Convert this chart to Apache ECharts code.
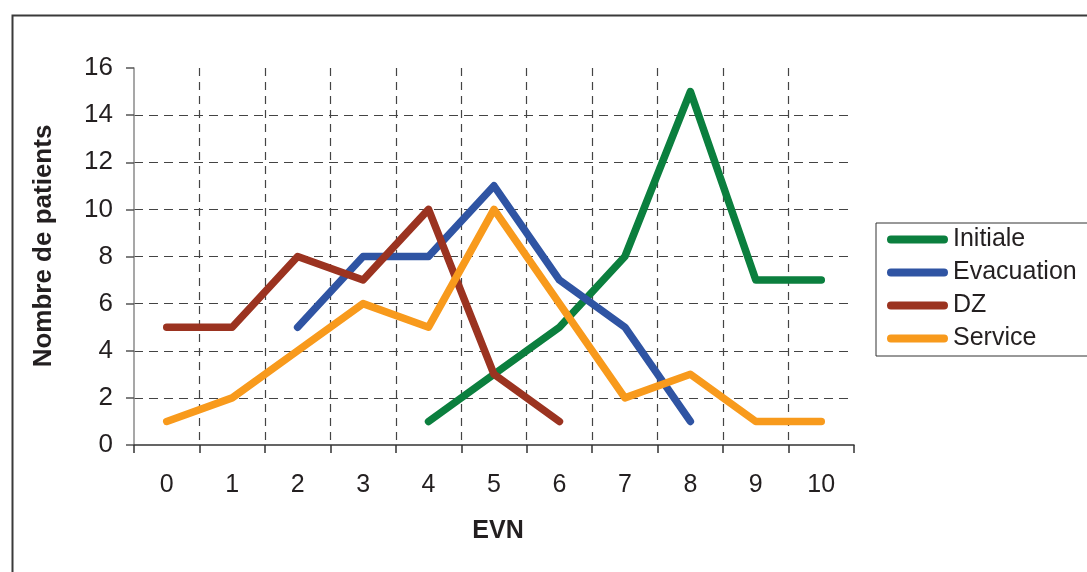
<!DOCTYPE html>
<html><head><meta charset="utf-8">
<script src="https://cdn.jsdelivr.net/npm/echarts@6/dist/echarts.min.js"></script>
<style>html,body{margin:0;padding:0;background:#fff}#c{width:1087px;height:572px}</style>
</head><body><div id="c"></div>
<script>
var categories = ['0','1','2','3','4','5','6','7','8','9','10'];
var initiale   = [null,null,null,null,1,3,5,8,15,7,7];
var evacuation = [null,null,5,8,8,11,7,5,1,null,null];
var dz         = [5,5,8,7,10,3,1,null,null,null,null];
var service    = [1,2,4,6,5,10,6,2,3,1,1];
var seriesNames = ['Initiale','Evacuation','DZ','Service'];
var colors = ['#0b7f3e','#2f54a3','#9b3320','#f89a1c'];
var xTitle = 'EVN';
var yTitle = 'Nombre de patients';
var FONT = '"Liberation Sans", Arial, sans-serif';

function mk(name, data, color){
  return {name:name, type:'line', data:data, showSymbol:false, symbol:'none',
    connectNulls:false, color:color, z: 5,
    lineStyle:{color:color, width:7.5, cap:'round', join:'round'}};
}
var chart = echarts.init(document.getElementById('c'), null, {renderer:'canvas'});
chart.setOption({
  animation:false,
  backgroundColor:'#fff',
  textStyle:{fontFamily:FONT},
  graphic:[
    {type:'rect', left:10, top:13, shape:{x:0,y:0,width:1200,height:700},
      style:{fill:'none', stroke:'#3a3a3a', lineWidth:2}, silent:true, z:-1},
    {type:'text', x:44, y:246, rotation:Math.PI/2, silent:true,
      style:{text:yTitle, fontFamily:FONT, fontSize:26, fontWeight:'bold', fill:'#231f20',
        align:'center', verticalAlign:'middle'}},
    {type:'text', x:498, y:531, silent:true,
      style:{text:xTitle, fontFamily:FONT, fontSize:25, fontWeight:'bold', fill:'#231f20',
        align:'center', verticalAlign:'middle'}}
  ],
  grid:{left:134, top:68, right:233, bottom:127, containLabel:false},
  legend:{orient:'vertical', left:876, top:223, data:seriesNames,
    icon:'path://M4,0 L58,0 A4,4 0 0 1 58,8 L4,8 A4,4 0 0 1 4,0 Z',
    itemWidth:61, itemHeight:8, itemGap:8,
    padding:[4,20,5,11], borderColor:'#333', borderWidth:1,
    textStyle:{fontFamily:FONT, fontSize:25, color:'#231f20', lineHeight:25}},
  xAxis:{type:'category', data:categories, boundaryGap:true,
    axisLine:{lineStyle:{color:'#333', width:1.5}},
    axisTick:{show:true, length:8, alignWithLabel:false, lineStyle:{color:'#333', width:1.5}},
    axisLabel:{margin:28, fontFamily:FONT, fontSize:25, color:'#231f20'},
    splitLine:{show:true, showMinLine:false, showMaxLine:false,
      lineStyle:{type:[8,6], color:'#444', width:1.2}}},
  yAxis:{type:'value', min:0, max:16, interval:2,
    axisLine:{show:true, lineStyle:{color:'#8a8a8a', width:1.5}},
    axisTick:{show:true, length:8, inside:false, lineStyle:{color:'#555', width:1.5}},
    axisLabel:{margin:21, fontFamily:FONT, fontSize:26, color:'#231f20'},
    splitLine:{show:true, showMinLine:false, showMaxLine:false,
      lineStyle:{type:[9,6], color:'#444', width:1.2}}},
  series:[mk(seriesNames[0], initiale, colors[0]), mk(seriesNames[1], evacuation, colors[1]),
          mk(seriesNames[2], dz, colors[2]), mk(seriesNames[3], service, colors[3])]
});
</script></body></html>
